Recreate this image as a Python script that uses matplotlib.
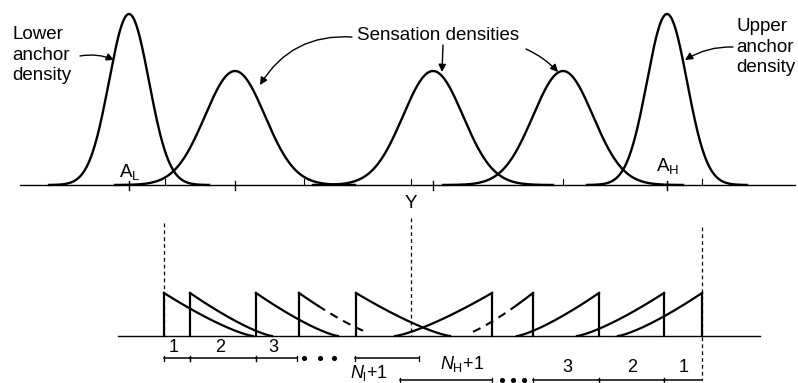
import numpy as np
import matplotlib
matplotlib.use("Agg")
import matplotlib.pyplot as plt

plt.rcParams['font.family'] = ['Liberation Sans', 'DejaVu Sans']
plt.rcParams['mathtext.fontset'] = 'custom'
plt.rcParams['mathtext.rm'] = 'Liberation Sans'
plt.rcParams['mathtext.it'] = 'Liberation Sans:italic'

# ---------------- data (sensation-axis units) ----------------
anchor_means = [129, 667]
anchor_sd = 20.0
anchor_peak = 171
sensation_means = [235, 433, 563]
sensation_sd = 30.0
sensation_peak = 114
top_cross_ticks = [129, 235, 433, 667]
top_small_ticks = [165, 304, 411, 563, 702]

lower_thresholds = [164, 190, 256, 299, 356]
lower_lengths = [89, 82, 82, 80, 94]
lower_dash_from = [None, None, None, 318, None]
lower_dash_to = [None, None, None, 363, None]
upper_thresholds = [492, 533, 599, 664, 702]
upper_lengths = [97, 72, 82, 87, 84]
upper_dash_from = [None, 473, None, None, None]
upper_dash_to = [None, 517, None, None, None]
trunc_height = 43
stimulus_Y = 411

row1_edges = [164, 190, 256, 297]
row1_labels = ['1', '2', '3']
row1_extra = [355, 419]
row1_dots = [304, 320, 334]
row2_edges = [533, 599, 664, 702]
row2_labels = ['3', '2', '1']
row2_extra = [400, 492]
row2_dots = [502, 513, 524]

# ---------------- layout ----------------
top_base = 185
bot_base = 336
row1_y = 358
row2_y = 380

fig = plt.figure(figsize=(7.98, 3.83), dpi=100)
ax = fig.add_axes([0, 0, 1, 1])
ax.set_xlim(0, 798)
ax.set_ylim(383, 0)
ax.axis('off')

K = 'black'
LW = 1.7

# ---- top panel ----
ax.plot([20, 795], [top_base, top_base], color=K, lw=1.0)
for m in anchor_means:
    x = np.linspace(m - 4 * anchor_sd, m + 4 * anchor_sd, 300)
    ax.plot(x, top_base - anchor_peak * np.exp(-0.5 * ((x - m) / anchor_sd) ** 2), color=K, lw=LW)
for m in sensation_means:
    x = np.linspace(m - 4 * sensation_sd, m + 4 * sensation_sd, 300)
    ax.plot(x, top_base - sensation_peak * np.exp(-0.5 * ((x - m) / sensation_sd) ** 2), color=K, lw=LW)
for t in top_cross_ticks:
    ax.plot([t, t], [top_base - 4.5, top_base + 4.5], color=K, lw=1.0)
for t in top_small_ticks:
    ax.plot([t, t], [top_base - 6, top_base], color=K, lw=0.8)

# ---- bottom panel ----
ax.plot([118, 760], [bot_base, bot_base], color=K, lw=1.0)
P = 1.3

def seg(x0, L, a, b, sign, **kw):
    x = np.linspace(a, b, 200)
    t = np.clip(sign * (x - x0) / L, 0, 1)
    ax.plot(x, bot_base - trunc_height * (1 - t) ** P, color=K, **kw)

for x0, L, d0, d1 in zip(lower_thresholds, lower_lengths, lower_dash_from, lower_dash_to):
    ax.plot([x0, x0], [bot_base, bot_base - trunc_height], color=K, lw=1.6)
    if d0 is None:
        seg(x0, L, x0, x0 + L, 1, lw=1.6)
    else:
        seg(x0, L, x0, d0, 1, lw=1.6)
        seg(x0, L, d0, d1, 1, lw=1.5, ls=(0, (4, 3)))
for x0, L, d0, d1 in zip(upper_thresholds, upper_lengths, upper_dash_from, upper_dash_to):
    ax.plot([x0, x0], [bot_base, bot_base - trunc_height], color=K, lw=1.6)
    if d0 is None:
        seg(x0, L, x0 - L, x0, -1, lw=1.6)
    else:
        seg(x0, L, d1, x0, -1, lw=1.6)
        seg(x0, L, d0, d1, -1, lw=1.5, ls=(0, (4, 3)))

dash = dict(color=K, lw=0.9, ls=(0, (3, 2.5)))
ax.plot([lower_thresholds[0]] * 2, [223, bot_base], **dash)
ax.plot([stimulus_Y] * 2, [218, bot_base], **dash)
ax.plot([upper_thresholds[-1]] * 2, [227, row2_y], **dash)

def bracket(a, b, y, tick_b=True):
    ax.plot([a, b], [y, y], color=K, lw=1.1)
    ax.plot([a, a], [y - 2.5, y + 2.5], color=K, lw=0.9)
    if tick_b:
        ax.plot([b, b], [y - 2.5, y + 2.5], color=K, lw=0.9)

FS = 13.5
FB = 13
for i, lab in enumerate(row1_labels):
    a, b = row1_edges[i], row1_edges[i + 1]
    bracket(a, b, row1_y)
    ax.text((a + b) / 2 - 3, 348, lab, ha='center', va='center', fontsize=FB)
bracket(row1_extra[0], row1_extra[1], row1_y)
ax.scatter(row1_dots, [row1_y] * 3, s=7, color=K)
ax.text(369, 373, r'$N_{\mathrm{l}}$+1', ha='center', va='center', fontsize=FB)

bracket(row2_extra[0], row2_extra[1], row2_y)
ax.scatter(row2_dots, [row2_y] * 3, s=7, color=K)
ax.text(462, 364, r'$N_{\mathrm{H}}$+1', ha='center', va='center', fontsize=FB)
for i, lab in enumerate(row2_labels):
    a, b = row2_edges[i], row2_edges[i + 1]
    bracket(a, b, row2_y, tick_b=(i < 2))
    ax.text((a + b) / 2 + 1, 367, lab, ha='center', va='center', fontsize=FB)

# ---- text and arrows ----
ax.text(12, 55, 'Lower\nanchor\ndensity', ha='left', va='center', fontsize=FS, linespacing=1.25)
ax.text(736, 47, 'Upper\nanchor\ndensity', ha='left', va='center', fontsize=FS, linespacing=1.25)
ax.text(438, 36, 'Sensation densities', ha='center', va='center', fontsize=FS)
ax.text(119, 172, r'A$_\mathrm{L}$', ha='left', va='center', fontsize=FS)
ax.text(656, 166, r'A$_\mathrm{H}$', ha='left', va='center', fontsize=FS)
ax.text(stimulus_Y, 203, 'Y', ha='center', va='center', fontsize=FS)

ap = dict(arrowstyle='-|>', color=K, lw=1.0, mutation_scale=11, shrinkA=0, shrinkB=0)
ax.annotate('', xy=(114, 60), xytext=(80, 56), arrowprops=dict(ap, connectionstyle='arc3,rad=-0.15'))
ax.annotate('', xy=(260, 85), xytext=(352, 37), arrowprops=dict(ap, connectionstyle='arc3,rad=0.3'))
ax.annotate('', xy=(442, 72), xytext=(443, 45), arrowprops=dict(ap, connectionstyle='arc3,rad=0'))
ax.annotate('', xy=(558, 72), xytext=(526, 49), arrowprops=dict(ap, connectionstyle='arc3,rad=-0.1'))
ax.annotate('', xy=(685, 60), xytext=(733, 47), arrowprops=dict(ap, connectionstyle='arc3,rad=0.15'))

fig.savefig('out.png', dpi=100)
